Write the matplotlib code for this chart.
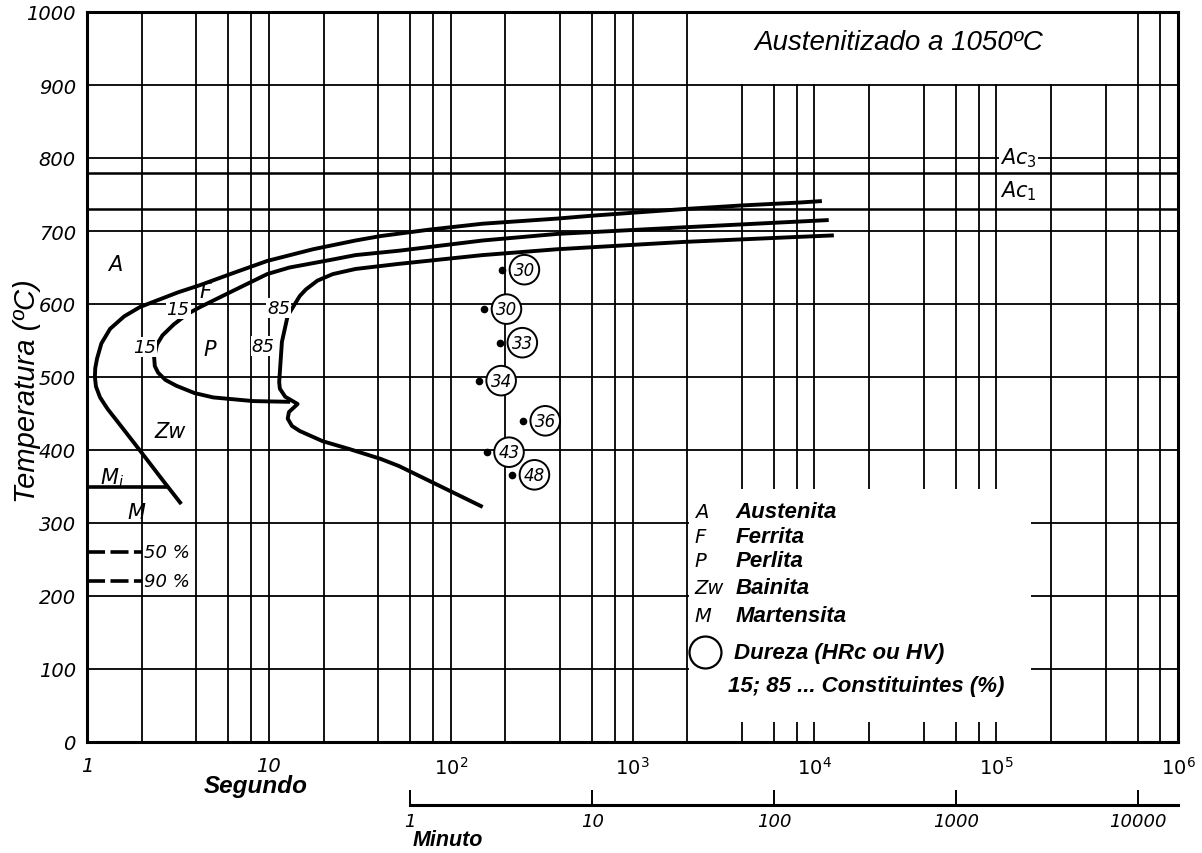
import numpy as np
import matplotlib
matplotlib.use("Agg")
import matplotlib.pyplot as plt
from matplotlib.patches import Rectangle
from matplotlib.ticker import NullLocator, FixedLocator, NullFormatter

# ---------------- data ----------------
# curve 1: start of transformation
c1_t = [11000, 8300, 4000, 1900, 600, 385, 150, 77, 41, 30, 17.5, 9.8, 6.3, 4.2, 3.17, 1.96,
        1.6, 1.34, 1.2, 1.135, 1.11, 1.105, 1.12, 1.18, 1.3, 1.46, 1.96, 2.62, 3.3]
c1_T = [741, 739, 735, 730, 721, 717, 710, 702, 693, 687, 675, 659, 642, 626, 616, 596,
        583, 566, 546, 525, 512, 500, 487, 472, 456, 440, 399, 358, 326]
# curve 2: 15 %
c2_t = [12000, 8300, 1900, 385, 150, 52, 30, 22.5, 13, 9.8, 6.35, 4.2, 3.55, 3.0, 2.6, 2.43,
        2.34, 2.36, 2.46, 2.7, 3.1, 3.9, 4.95, 8.2, 13.1]
c2_T = [715, 713, 705, 696, 687, 673, 667, 661, 650, 641, 618, 596, 586, 572, 557, 545,
        527, 515, 506, 496, 488, 478, 472, 467, 466]
# curve 3: 85 % and bainite end
c3_t = [12800, 8300, 1900, 385, 150, 52, 30, 22.5, 18.5, 16, 14.8, 12.7, 11.8, 11.4, 11.5,
        12.3, 14.4, 12.9, 12.7, 13.4, 14.8, 19.8, 28, 41, 52, 150]
c3_T = [694, 692, 685, 675, 667, 655, 648, 641, 632, 620, 611, 584, 548, 493, 484,
        473, 463, 452, 443, 433, 426, 412, 401, 388, 378, 322]

ac3 = 780
ac1 = 730
mi_T = 350
mi_t = [1, 2.75]
pct_labels = ["50 %", "90 %"]
pct_T = [260, 220]
pct_t = [1, 2]

hv_t = [192, 153, 187, 143, 250, 158, 218]
hv_T = [647, 593, 547, 495, 440, 397, 366]
hv_val = ["30", "30", "33", "34", "36", "43", "48"]

x_ticks = [1, 10, 100, 1000, 1e4, 1e5, 1e6]
x_ticklabels = ["1", "10", r"$\mathit{10^2}$", r"$\mathit{10^3}$", r"$\mathit{10^4}$",
                r"$\mathit{10^5}$", r"$\mathit{10^6}$"]
y_ticks = [0, 100, 200, 300, 400, 500, 600, 700, 800, 900, 1000]
min_ticks = [1, 10, 100, 1000, 10000]
min_ticklabels = ["1", "10", "100", "1000", "10000"]

legend_sym = ["A", "F", "P", "Zw", "M"]
legend_names = ["Austenita", "Ferrita", "Perlita", "Bainita", "Martensita"]

# ---------------- figure ----------------
plt.rcParams["font.family"] = ["DejaVu Sans"]
plt.rcParams["mathtext.fontset"] = "dejavusans"

W, H = 1202, 854
fig = plt.figure(figsize=(W / 100, H / 100), dpi=100)
L, R, T_, B = 87, 1178, 13, 743
ax = fig.add_axes([L / W, 1 - B / H, (R - L) / W, (B - T_) / H])
ax.set_xscale("log")
ax.set_xlim(1, 1e6)
ax.set_ylim(0, 1000)

# grid: lines at 1,2,4,6,8 per decade
ax.set_xticks(x_ticks)
ax.set_xticklabels(x_ticklabels)
minor = [m * 10 ** d for d in range(6) for m in (2, 4, 6, 8)]
ax.xaxis.set_minor_locator(FixedLocator(minor))
ax.xaxis.set_minor_formatter(NullFormatter())
ax.set_yticks(y_ticks)
ax.set_axisbelow(True)
ax.grid(True, which="both", axis="x", color="black", lw=1.3)
ax.grid(True, which="major", axis="y", color="black", lw=1.3)
ax.tick_params(which="both", length=0)
ax.tick_params(axis="x", pad=10, labelsize=14)
ax.tick_params(axis="y", pad=8, labelsize=14)
for lab in ax.get_xticklabels() + ax.get_yticklabels():
    lab.set_fontstyle("italic")
for s in ax.spines.values():
    s.set_linewidth(2.2)

# white boxes (title and legend) hiding the grid
ax.add_patch(Rectangle((2000 * 1.02, 901), 6e5 / 1.02 - 2000 * 1.02, 98,
                       facecolor="white", edgecolor="none", zorder=1))
ax.add_patch(Rectangle((2000 * 1.02, 27), 1.55e5 - 2000 * 1.02, 320,
                       facecolor="white", edgecolor="none", zorder=1))

# Ac lines
ax.axhline(ac3, color="black", lw=1.8, zorder=2)
ax.axhline(ac1, color="black", lw=1.8, zorder=2)
ax.text(1.05e5, 801, r"$\mathit{Ac_3}$", fontsize=15, ha="left", va="center", zorder=4,
        bbox=dict(boxstyle="square,pad=0.05", fc="white", ec="none"))
ax.text(1.05e5, 756, r"$\mathit{Ac_1}$", fontsize=15, ha="left", va="center", zorder=4)

# curves
kw = dict(color="black", lw=2.8, zorder=3, solid_joinstyle="round", solid_capstyle="butt")
ax.plot(c1_t, c1_T, **kw)
ax.plot(c2_t, c2_T, **kw)
ax.plot(c3_t, c3_T, **kw)
ax.plot(mi_t, [mi_T, mi_T], color="black", lw=2.6, zorder=3)
for tt, lab in zip(pct_T, pct_labels):
    ax.plot(pct_t, [tt, tt], color="black", lw=2.6, ls=(0, (5, 1.5)), zorder=3)
    ax.text(2.05, tt, lab, fontsize=13, style="italic", ha="left", va="center", zorder=4)

# region labels
lab_kw = dict(fontsize=15, style="italic", ha="center", va="center", zorder=4)
ax.text(1.43, 655, "A", **lab_kw)
ax.text(4.5, 618, "F", **lab_kw)
ax.text(4.75, 538, "P", **lab_kw)
ax.text(2.86, 426, "Zw", **lab_kw)
ax.text(1.37, 363, r"$\mathit{M_i}$", **lab_kw)
ax.text(1.88, 315, "M", **lab_kw)
lab2 = dict(fontsize=13, style="italic", ha="center", va="center", zorder=4,
            bbox=dict(boxstyle="square,pad=0.05", fc="white", ec="none"))
ax.text(3.17, 593, "15", **lab2)
ax.text(2.08, 541, "15", **lab2)
ax.text(11.3, 594, "85", **lab2)
ax.text(9.3, 542, "85", **lab2)

# hardness points
ax.plot(hv_t, hv_T, "o", color="black", ms=4.5, zorder=5)
for t, T, v in zip(hv_t, hv_T, hv_val):
    ax.annotate(v, (t, T), xytext=(16, 0), textcoords="offset points",
                ha="center", va="center", fontsize=12, style="italic", zorder=6,
                bbox=dict(boxstyle="circle,pad=0.25", fc="white", ec="black", lw=1.4))

# title box text
ax.text(2.9e4, 959, "Austenitizado a 1050ºC", fontsize=20, style="italic",
        family="Liberation Sans", ha="center", va="center", zorder=4)

# legend
rows_T = [316, 282, 248, 211, 173]
for sym, name, tt in zip(legend_sym, legend_names, rows_T):
    ax.text(2200, tt, sym, fontsize=14, style="italic", ha="left", va="center", zorder=4)
    ax.text(3700, tt, name, fontsize=16, style="italic", weight="bold",
            family="Liberation Sans", ha="left", va="center", zorder=4)
ax.plot([2500], [123], "o", ms=23, mfc="white", mec="black", mew=1.6, zorder=4)
ax.text(3620, 123, "Dureza (HRc ou HV)", fontsize=16, style="italic", weight="bold",
        family="Liberation Sans", ha="left", va="center", zorder=4)
ax.text(3370, 77, "15; 85 ... Constituintes (%)", fontsize=16, style="italic", weight="bold",
        family="Liberation Sans", ha="left", va="center", zorder=4)

# axis labels
fig.text(27 / W, 1 - 391 / H, "Temperatura (ºC)", fontsize=21, style="italic",
         family="Liberation Sans", rotation=90, ha="center", va="center")
fig.text(256 / W, 1 - 787 / H, "Segundo", fontsize=17.5, style="italic", weight="bold",
         family="Liberation Sans", ha="center", va="center")
fig.text(448 / W, 1 - 841 / H, "Minuto", fontsize=15.5, style="italic", weight="bold",
         family="Liberation Sans", ha="center", va="center")

# minute axis
sec = ax.secondary_xaxis((B - 806) / (B - T_), functions=(lambda s: s / 60.0, lambda m: m * 60.0))
sec.set_xticks(min_ticks)
sec.set_xticklabels(min_ticklabels)
sec.xaxis.set_minor_locator(NullLocator())
sec.tick_params(direction="in", length=11, width=1.4, pad=5, labelsize=13)
for lab in sec.get_xticklabels():
    lab.set_fontstyle("italic")
sec.spines["bottom"].set_linewidth(2.2)
sec.spines["bottom"].set_bounds(1, 1e6 / 60)

fig.savefig("out.png", dpi=100)
